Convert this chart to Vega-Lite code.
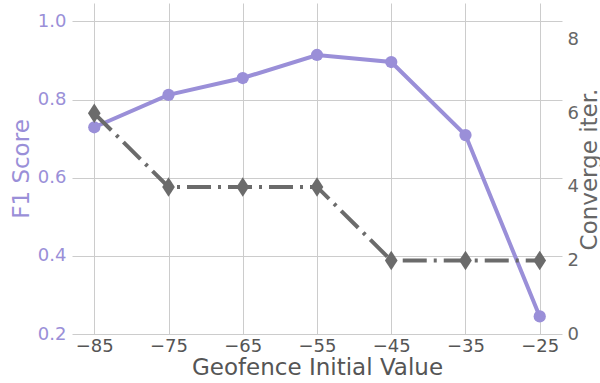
{
  "$schema": "https://vega.github.io/schema/vega-lite/v6.json",
  "width": 490,
  "height": 331,
  "autosize": {"type": "none"},
  "padding": {"left": 72, "top": 3, "right": 38, "bottom": 49},
  "background": "white",
  "config": {
    "view": {"stroke": null},
    "font": "DejaVu Sans",
    "axis": {"gridColor": "#cccccc", "gridWidth": 1, "domain": false, "ticks": false, "labelFontSize": 18, "titleFontSize": 23, "titleFontWeight": "normal", "labelFont": "DejaVu Sans", "titleFont": "DejaVu Sans"}
  },
  "data": {
    "values": [
      {"x": -85, "f1": 0.729, "iter": 6},
      {"x": -75, "f1": 0.812, "iter": 4},
      {"x": -65, "f1": 0.855, "iter": 4},
      {"x": -55, "f1": 0.914, "iter": 4},
      {"x": -45, "f1": 0.896, "iter": 2},
      {"x": -35, "f1": 0.709, "iter": 2},
      {"x": -25, "f1": 0.245, "iter": 2}
    ]
  },
  "encoding": {
    "x": {
      "field": "x", "type": "quantitative",
      "scale": {"domain": [-88, -22], "nice": false, "zero": false},
      "axis": {"values": [-85, -75, -65, -55, -45, -35, -25], "title": "Geofence Initial Value", "labelColor": "#555555", "titleColor": "#555555", "labelPadding": 3, "titlePadding": 1, "labelExpr": "'\u2212' + abs(datum.value)"}
    }
  },
  "layer": [
    {
      "layer": [
        {"mark": {"type": "line", "color": "#9a8fd8", "strokeWidth": 4}},
        {"mark": {"type": "point", "shape": "circle", "filled": true, "opacity": 1, "color": "#9a8fd8", "size": 150}}
      ],
      "encoding": {
        "y": {
          "field": "f1", "type": "quantitative",
          "scale": {"domain": [0.2, 1.047], "nice": false, "zero": false},
          "axis": {"orient": "left", "values": [0.2, 0.4, 0.6, 0.8, 1.0], "format": ".1f", "title": "F1 Score", "labelColor": "#9a8fd8", "titleColor": "#9a8fd8", "labelPadding": 6, "titlePadding": 4}
        }
      }
    },
    {
      "layer": [
        {"mark": {"type": "line", "color": "#6b6b6b", "strokeWidth": 4, "strokeDash": [24, 7, 3, 7]}},
        {"mark": {"type": "point", "shape": "M0,-1L0.65,0L0,1L-0.65,0Z", "filled": true, "opacity": 1, "color": "#6b6b6b", "size": 380}}
      ],
      "encoding": {
        "y": {
          "field": "iter", "type": "quantitative",
          "scale": {"domain": [0, 9], "nice": false},
          "axis": {"orient": "right", "values": [0, 2, 4, 6, 8], "title": "Converge iter.", "titleAngle": 270, "titleX": 27, "titleY": 166, "titleAlign": "center", "titleBaseline": "middle", "labelColor": "#666666", "titleColor": "#666666", "labelPadding": 5}
        }
      }
    }
  ],
  "resolve": {"scale": {"y": "independent"}}
}
